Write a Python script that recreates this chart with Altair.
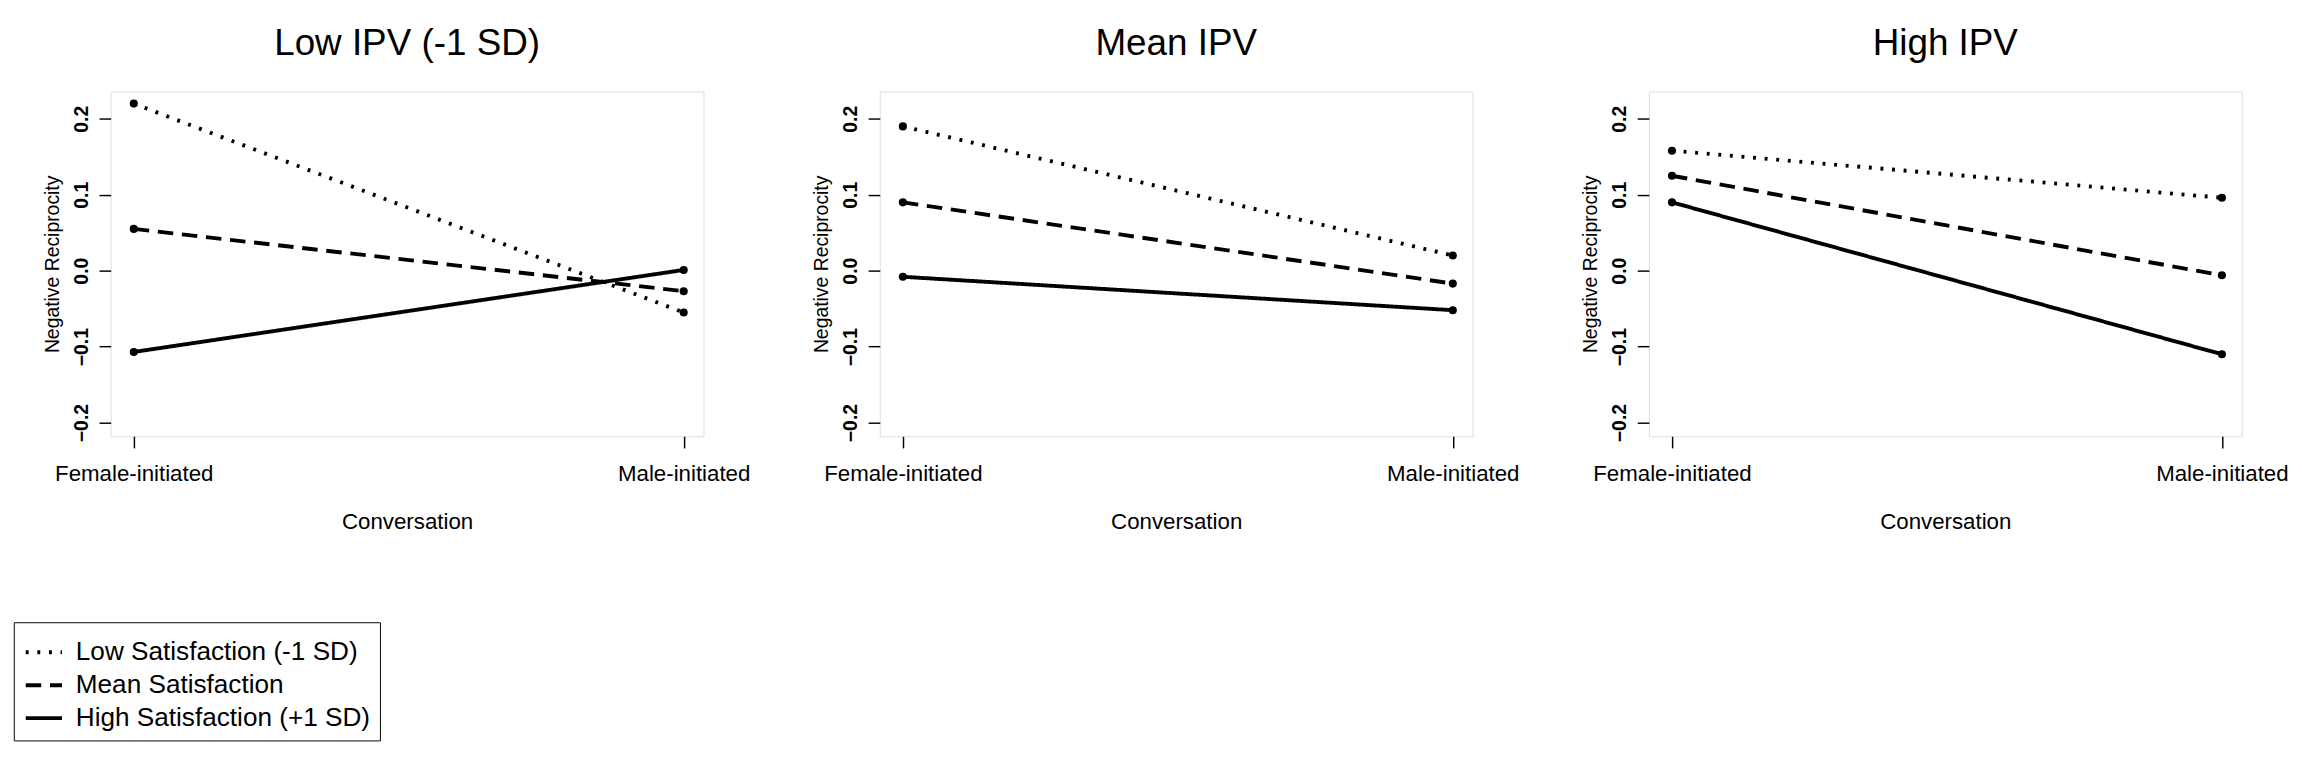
import altair as alt
import pandas as pd

panels = ["Low IPV (-1 SD)", "Mean IPV", "High IPV"]
series = ["Low Satisfaction (-1 SD)", "Mean Satisfaction", "High Satisfaction (+1 SD)"]
conv = ["Female-initiated", "Male-initiated"]
# values[panel][series] = [female, male]
values = {
    "Low IPV (-1 SD)": [[0.22, -0.055], [0.055, -0.027], [-0.107, 0.001]],
    "Mean IPV": [[0.19, 0.02], [0.09, -0.017], [-0.008, -0.052]],
    "High IPV": [[0.158, 0.096], [0.125, -0.006], [0.09, -0.11]],
}

rows = []
for p in panels:
    for s, vals in zip(series, values[p]):
        for i, v in enumerate(vals):
            rows.append({"panel": p, "series": s, "x": i, "y": v})
df = pd.DataFrame(rows)

dash = alt.Scale(domain=series, range=[[3, 9], [16, 9], [1, 0]])
FN = "Liberation Sans"

def panel(p, show_legend):
    d = df[df.panel == p]
    base = alt.Chart(d)
    xenc = alt.X("x:Q", scale=alt.Scale(domain=[-0.042, 1.036], nice=False, zero=False),
                 axis=alt.Axis(values=[0, 1], labelExpr="datum.value == 0 ? 'Female-initiated' : 'Male-initiated'",
                               title="Conversation", grid=False, domain=False, tickColor="black",
                               tickSize=12, tickWidth=1.5, labelFont=FN, labelFontSize=23,
                               titleFont=FN, titleFontSize=23, titleFontWeight="normal",
                               titlePadding=26, labelPadding=16, labelColor="black",
                               titleColor="black", labelOverlap=False, labelFlush=False))
    yenc = alt.Y("y:Q", scale=alt.Scale(domain=[-0.218, 0.236], nice=False, zero=False),
                 axis=alt.Axis(values=[-0.2, -0.1, 0.0, 0.1, 0.2], format=".1f", labelAngle=270,
                               labelAlign="center", labelBaseline="bottom", title="Negative Reciprocity",
                               grid=False, domain=False, tickColor="black", tickSize=12, tickWidth=1.5,
                               labelFont=FN, labelFontWeight="bold", labelFontSize=20,
                               titleFont=FN, titleFontSize=20, titleFontWeight="normal",
                               titlePadding=10, labelPadding=8, labelColor="black", titleColor="black"))
    leg = alt.Legend(title=None, orient="none", legendX=-100, legendY=548, symbolType="stroke",
                     symbolStrokeWidth=4, symbolSize=1400, labelFont=FN, labelLimit=0,
                     labelFontSize=27, labelColor="black", strokeColor="black", padding=10,
                     rowPadding=0, symbolStrokeColor="black", labelOffset=12) if show_legend else None
    lines = base.mark_line(color="black", strokeWidth=4).encode(
        x=xenc, y=yenc,
        strokeDash=alt.StrokeDash("series:N", scale=dash, legend=leg, sort=series))
    pts = base.mark_circle(color="black", size=70, opacity=1).encode(x="x:Q", y="y:Q")
    return alt.layer(lines, pts).properties(
        width=612, height=356,
        title=alt.TitleParams(p, font=FN, fontSize=38, fontWeight="normal", offset=30, color="black"))

chart = alt.hconcat(*[panel(p, i == 0) for i, p in enumerate(panels)], spacing=62).configure_view(
    stroke="black", strokeWidth=2).configure(background="white")

chart.save("out.html", embed_options={"renderer": "svg", "actions": False})
